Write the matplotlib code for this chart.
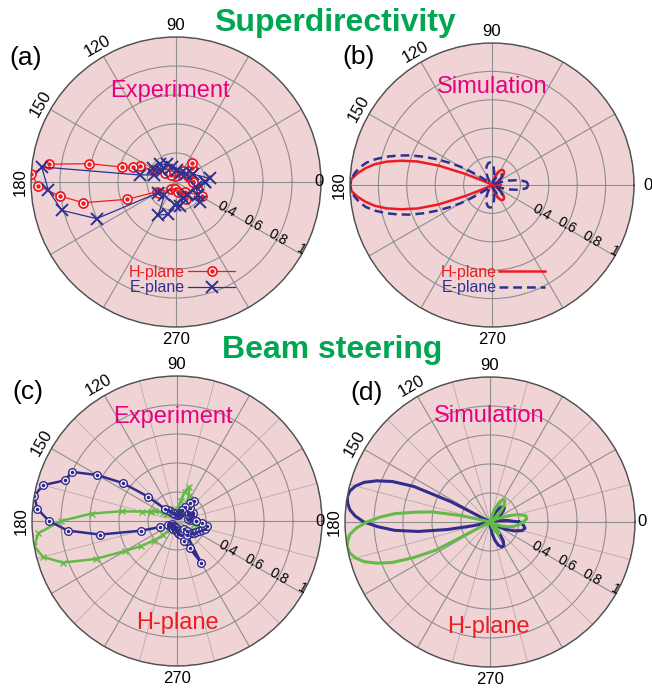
import numpy as np
import matplotlib
matplotlib.use("Agg")
import matplotlib.pyplot as plt
from matplotlib.legend_handler import HandlerTuple

plt.rcParams['font.family'] = ['Liberation Sans', 'DejaVu Sans']

# ---- (a) experiment, superdirectivity (angle in deg, normalised amplitude)
a_h_deg = [0, 15, 26, 42, 51, 56, 75, 100, 125, 140, 152.7, 156.4, 160.6, 164.6, 168.1, 172,
           176.7, 181.7, 186.9, 192.6, 199.6, 206.7, 212.6, 235, 260, 280, 297, 301, 313,
           331.4, 345, 360]
a_h_r = [0.12, 0.10, 0.094, 0.146, 0.172, 0.091, 0.05, 0.04, 0.06, 0.10, 0.181, 0.27, 0.312,
         0.389, 0.613, 0.882, 1.0, 0.95, 0.806, 0.655, 0.356, 0.149, 0.137, 0.06, 0.05, 0.07,
         0.087, 0.134, 0.091, 0.202, 0.15, 0.12]
a_e_deg = [0, 6, 24, 40, 60, 85, 105, 117.7, 132, 142, 149, 162, 169, 173.6, 183.7, 193.9,
           204.8, 211, 228, 242, 256.6, 268, 279.5, 295, 309, 320, 330, 345, 360]
a_e_r = [0.20, 0.236, 0.131, 0.09, 0.07, 0.08, 0.11, 0.138, 0.165, 0.124, 0.183, 0.16, 0.253,
         0.932, 0.882, 0.812, 0.603, 0.142, 0.12, 0.258, 0.229, 0.16, 0.168, 0.12, 0.116,
         0.219, 0.178, 0.14, 0.20]

# ---- simulation sampling angles: 5 deg steps, 2.5 deg around the main lobe
sim_deg = np.r_[np.arange(0, 140, 5), np.arange(140, 220, 2.5), np.arange(220, 361, 5)]

# ---- (b) simulation, superdirectivity
b_h_r = ([0.06, 0.055, 0.04, 0.02, 0.01, 0.02, 0.04, 0.07, 0.10, 0.12, 0.13, 0.13, 0.12, 0.10,
          0.07, 0.04, 0.02, 0.01, 0.01, 0.01, 0.01, 0.01, 0.01, 0.01, 0.01, 0.01, 0.01, 0.01]
         + [0.01, 0.01, 0.01, 0.01, 0.02, 0.03, 0.06, 0.20, 0.40, 0.55, 0.66, 0.76, 0.84, 0.90,
            0.95, 0.99, 1.0, 0.99, 0.95, 0.90, 0.84, 0.76, 0.66, 0.55, 0.40, 0.20, 0.06, 0.03,
            0.02, 0.01, 0.01, 0.01]
         + [0.01, 0.01, 0.01, 0.01, 0.01, 0.01, 0.01, 0.01, 0.01, 0.01, 0.01, 0.01, 0.02, 0.04,
            0.07, 0.10, 0.12, 0.13, 0.13, 0.12, 0.10, 0.07, 0.04, 0.02, 0.01, 0.02, 0.04, 0.055,
            0.06])
b_e_r = ([0.256, 0.245, 0.20, 0.12, 0.05, 0.02, 0.04, 0.07, 0.09, 0.10, 0.10, 0.09, 0.07, 0.04,
          0.02, 0.04, 0.09, 0.13, 0.155, 0.16, 0.155, 0.14, 0.12, 0.09, 0.06, 0.03, 0.02, 0.03]
         + [0.04, 0.06, 0.10, 0.17, 0.26, 0.34, 0.43, 0.52, 0.61, 0.69, 0.77, 0.84, 0.90, 0.94,
            0.97, 0.99, 1.0, 0.99, 0.97, 0.94, 0.90, 0.84, 0.77, 0.69, 0.61, 0.52, 0.43, 0.34,
            0.26, 0.17, 0.10, 0.06]
         + [0.04, 0.03, 0.02, 0.03, 0.06, 0.09, 0.12, 0.14, 0.155, 0.16, 0.155, 0.13, 0.09, 0.04,
            0.02, 0.04, 0.07, 0.09, 0.10, 0.10, 0.09, 0.07, 0.04, 0.02, 0.05, 0.12, 0.20, 0.245,
            0.256])

# ---- (c) experiment, beam steering (5 deg steps)
c_deg = np.arange(0, 361, 5)
c_blue_r = [0.13, 0.10, 0.08, 0.09, 0.11, 0.124, 0.10, 0.09, 0.10, 0.122, 0.183, 0.151, 0.11,
            0.08, 0.061, 0.05, 0.04, 0.04, 0.04, 0.05, 0.05, 0.05, 0.06, 0.06, 0.061, 0.08, 0.10,
            0.12, 0.262, 0.456, 0.634, 0.802, 0.821, 0.955, 1.0, 0.967, 0.883, 0.757, 0.54,
            0.258, 0.124, 0.066, 0.05, 0.04, 0.05, 0.06, 0.05, 0.04, 0.05, 0.06, 0.05, 0.04,
            0.05, 0.06, 0.07, 0.08, 0.09, 0.10, 0.15, 0.207, 0.334, 0.12, 0.076, 0.10, 0.132,
            0.14, 0.15, 0.165, 0.18, 0.20, 0.213, 0.172, 0.13]
c_green_r = [0.09, 0.10, 0.08, 0.07, 0.08, 0.10, 0.09, 0.08, 0.07, 0.08, 0.09, 0.11, 0.14,
             0.19, 0.25, 0.21, 0.14, 0.08, 0.06, 0.05, 0.05, 0.06, 0.07, 0.08, 0.09, 0.10, 0.11,
             0.10, 0.08, 0.09, 0.11, 0.165, 0.19, 0.25, 0.387, 0.59, 0.80, 0.959, 1.0, 0.956,
             0.839, 0.62, 0.413, 0.30, 0.21, 0.14, 0.08, 0.06, 0.05, 0.05, 0.06, 0.07, 0.06,
             0.05, 0.05, 0.06, 0.07, 0.08, 0.09, 0.10, 0.11, 0.12, 0.13, 0.12, 0.11, 0.12, 0.13,
             0.14, 0.15, 0.14, 0.12, 0.10, 0.09]

# ---- (d) simulation, beam steering
d_blue_r = ([0.20, 0.12, 0.05, 0.01, 0.01, 0.02, 0.05, 0.09, 0.12, 0.14, 0.14, 0.12, 0.08, 0.04,
             0.01, 0.01, 0.01, 0.01, 0.01, 0.01, 0.01, 0.01, 0.01, 0.01, 0.01, 0.01, 0.01, 0.01]
            + [0.01, 0.01, 0.01, 0.01, 0.02, 0.30, 0.58, 0.73, 0.83, 0.91, 0.96, 0.99, 1.0, 0.99,
               0.97, 0.93, 0.87, 0.77, 0.66, 0.50, 0.30, 0.12, 0.03, 0.01, 0.01, 0.01, 0.01,
               0.01, 0.01, 0.01, 0.01, 0.01]
            + [0.01, 0.01, 0.01, 0.01, 0.01, 0.01, 0.01, 0.01, 0.01, 0.01, 0.01, 0.03, 0.08,
               0.13, 0.17, 0.19, 0.19, 0.16, 0.10, 0.04, 0.01, 0.02, 0.06, 0.12, 0.18, 0.23,
               0.245, 0.23, 0.20])
d_green_r = ([0.23, 0.255, 0.25, 0.20, 0.12, 0.05, 0.01, 0.02, 0.06, 0.11, 0.15, 0.18, 0.18,
              0.15, 0.09, 0.03, 0.01, 0.01, 0.01, 0.01, 0.01, 0.01, 0.01, 0.01, 0.01, 0.01,
              0.01, 0.01]
             + [0.01, 0.01, 0.01, 0.01, 0.01, 0.01, 0.01, 0.01, 0.01, 0.01, 0.02, 0.20, 0.40,
                0.52, 0.66, 0.76, 0.85, 0.92, 0.97, 0.99, 1.0, 0.99, 0.96, 0.91, 0.83, 0.73,
                0.58, 0.42, 0.02, 0.01, 0.01, 0.01]
             + [0.01, 0.01, 0.01, 0.01, 0.01, 0.01, 0.01, 0.01, 0.01, 0.01, 0.01, 0.01, 0.01,
                0.01, 0.01, 0.04, 0.08, 0.10, 0.10, 0.08, 0.04, 0.01, 0.01, 0.03, 0.08, 0.13,
                0.17, 0.20, 0.23])

RED = '#ED1C24'
NAVY = '#2E3192'
INDIGO = '#332C8C'
GREEN = '#62BB46'
MAGENTA = '#E6007E'
BG = '#F0D4D5'

W, H = 652, 692
fig = plt.figure(figsize=(W / 100, H / 100), dpi=100)


def polar_axes(cx, cy, R):
    return fig.add_axes([(cx - R) / W, 1 - (cy + R) / H, 2 * R / W, 2 * R / H],
                        projection='polar')


def style(ax, minor, zero_r):
    ax.set_facecolor(BG)
    ax.set_ylim(0, 1)
    ax.set_yticks([0.2, 0.4, 0.6, 0.8, 1.0])
    ax.set_yticklabels([])
    ax.set_xticks(np.deg2rad(np.arange(0, 360, 30)))
    ax.set_xticklabels([])
    ax.grid(True, color='#8e8e8e', lw=0.8)
    if minor:
        ax.set_xticks(np.deg2rad(np.arange(15, 360, 30)), minor=True)
        ax.xaxis.grid(True, which='minor', color='#b9a9aa', lw=0.6)
    ax.tick_params(which='both', length=0)
    ax.spines['polar'].set_color('#505050')
    ax.spines['polar'].set_linewidth(1.0)
    for deg, rot, r in [(90, 0, 1.08), (120, 30, 1.08), (150, 60, 1.08),
                        (180, 90, 1.075), (270, 0, 1.085), (0, 0, zero_r)]:
        ax.text(np.deg2rad(deg), r, str(deg), rotation=rot, ha='center', va='center',
                fontsize=12, rotation_mode='anchor')
    for v, s in [(0.4, '0.4'), (0.6, '0.6'), (0.8, '0.8'), (0.98, '1')]:
        ax.text(np.deg2rad(-28.5), v, s, rotation=-30, ha='center', va='center',
                fontsize=10, rotation_mode='anchor')


def ftext(x, y, s, **kw):
    fig.text(x / W, 1 - y / H, s, **kw)


# (a)
ax = polar_axes(176, 182, 145)
style(ax, False, 0.985)
h1, = ax.plot(np.deg2rad(a_h_deg), a_h_r, color=RED, lw=0.9, marker='o', ms=6.5,
              mfc='white', mec=RED, mew=1.3)
h2, = ax.plot(np.deg2rad(a_h_deg), a_h_r, ls='none', marker='o', ms=2.2, color=RED)
e1, = ax.plot(np.deg2rad(a_e_deg), a_e_r, color=NAVY, lw=0.9, marker='x', ms=8, mew=1.4)
leg = ax.legend([(h1, h2), e1], ['H-plane', 'E-plane'], loc='center',
                bbox_to_anchor=(182 / W, 1 - 280 / H), bbox_transform=fig.transFigure,
                markerfirst=False, frameon=False, fontsize=11.5, handlelength=2.9,
                handletextpad=0.2, labelspacing=0.05, numpoints=1,
                handler_map={tuple: HandlerTuple(ndivide=1, pad=0)})
for t, c in zip(leg.get_texts(), [RED, NAVY]):
    t.set_color(c)

# (b)
ax = polar_axes(492, 185, 142)
style(ax, False, 1.1)
bh, = ax.plot(np.deg2rad(sim_deg), b_h_r, color=RED, lw=1.8)
be, = ax.plot(np.deg2rad(sim_deg), b_e_r, color=NAVY, lw=1.8, dashes=(3.5, 2.0))
leg = ax.legend([bh, be], ['H-plane', 'E-plane'], loc='center',
                bbox_to_anchor=(493 / W, 1 - 280 / H), bbox_transform=fig.transFigure,
                markerfirst=False, frameon=False, fontsize=11.5, handlelength=2.9,
                handletextpad=0.1, labelspacing=0.05)
for t, c in zip(leg.get_texts(), [RED, NAVY]):
    t.set_color(c)

# (c)
ax = polar_axes(177, 521, 145)
style(ax, True, 0.985)
ax.plot(np.deg2rad(c_deg), c_green_r, color=GREEN, lw=1.8, marker='x', ms=5, mew=1.0)
ax.plot(np.deg2rad(c_deg), c_blue_r, color=INDIGO, lw=1.8, marker='o', ms=5.5,
        mfc='white', mec=INDIGO, mew=1.0)
ax.plot(np.deg2rad(c_deg), c_blue_r, ls='none', marker='o', ms=1.6, color=INDIGO)

# (d)
ax = polar_axes(490, 522, 145)
style(ax, True, 1.05)
ax.plot(np.deg2rad(sim_deg), d_blue_r, color=INDIGO, lw=2.2)
ax.plot(np.deg2rad(sim_deg), d_green_r, color=GREEN, lw=2.2)

# titles and annotations
ftext(335, 31.5, 'Superdirectivity', ha='center', va='baseline', fontsize=23,
      fontweight='bold', color='#00A651')
ftext(332, 358, 'Beam steering', ha='center', va='baseline', fontsize=23,
      fontweight='bold', color='#00A651')
for x, y, s in [(26, 58, '(a)'), (359, 57, '(b)'), (28, 392, '(c)'), (367, 393, '(d)')]:
    ftext(x, y, s, ha='center', va='center', fontsize=19)
for x, y, s in [(170, 96.7, 'Experiment'), (492.5, 93.3, 'Simulation'),
                (172.5, 422.7, 'Experiment'), (489, 421.7, 'Simulation')]:
    ftext(x, y, s, ha='center', va='baseline', fontsize=17, color=MAGENTA)
for x, y in [(177.5, 629.3), (488, 632.7)]:
    ftext(x, y, 'H-plane', ha='center', va='baseline', fontsize=17, color=RED)

fig.savefig('out.png', dpi=100)
